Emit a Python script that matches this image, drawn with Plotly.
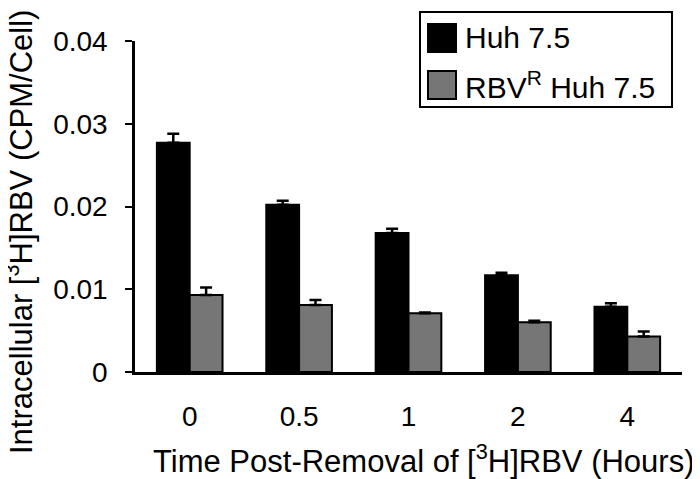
import plotly.graph_objects as go

# data
hours = ["0", "0.5", "1", "2", "4"]
huh_vals = [0.0277, 0.0202, 0.0168, 0.0117, 0.0079]
huh_err = [0.0011, 0.0005, 0.0005, 0.0003, 0.0004]
rbvr_vals = [0.0093, 0.0081, 0.0071, 0.0060, 0.0043]
rbvr_err = [0.0009, 0.0006, 0.0001, 0.0002, 0.0006]
series_names = ["Huh 7.5", "RBV<sup>R</sup> Huh 7.5"]
y_ticks = [0, 0.01, 0.02, 0.03, 0.04]
y_labels = ["0", "0.01", "0.02", "0.03", "0.04"]

# page body has an 8px margin, so the figure is drawn 8px in from the corner
OFF = 8
W, H = 692, 471
L, R, T, B = 127, 18, 33, 107
FONT = "Arial, Liberation Sans, sans-serif"


def px_x(sx):
    # screen pixel -> paper x
    return (sx - OFF - L) / (W - L - R)


def px_y(sy):
    # screen pixel -> paper y
    return (H - B - (sy - OFF)) / (H - T - B)


fig = go.Figure()
for vals, err, color, name in [
    (huh_vals, huh_err, "#000000", series_names[0]),
    (rbvr_vals, rbvr_err, "#767676", series_names[1]),
]:
    fig.add_trace(go.Bar(
        x=hours, y=vals, name=name,
        marker=dict(color=color, line=dict(color="black", width=2)),
        error_y=dict(type="data", array=err, arrayminus=[0] * len(err),
                     symmetric=False, color="black", thickness=2.5, width=6),
    ))

fig.update_layout(
    width=W, height=H,
    margin=dict(l=L, r=R, t=T, b=B),
    plot_bgcolor="white", paper_bgcolor="white",
    barmode="group", bargap=0.4, bargroupgap=0,
    showlegend=False,
    font=dict(family=FONT, size=28, color="black"),
)
fig.update_xaxes(
    showline=True, linecolor="black", linewidth=2.5,
    ticks="", showgrid=False, tickfont=dict(size=28), ticklabelstandoff=18,
)
fig.update_yaxes(
    range=[0, 0.04], showline=True, linecolor="black", linewidth=2.5,
    ticks="outside", ticklen=7, tickwidth=2, tickcolor="black",
    tickvals=y_ticks, ticktext=y_labels, showgrid=False, zeroline=False,
    tickfont=dict(size=28), ticklabelstandoff=12,
)

# axis titles
fig.add_annotation(
    text="Time Post-Removal of [<sup>3</sup>H]RBV (Hours)",
    xref="paper", yref="paper", x=px_x(423), y=px_y(459),
    xanchor="center", yanchor="middle",
    showarrow=False, font=dict(size=31),
)
fig.add_annotation(
    text="Intracellular [<sup>3</sup>H]RBV (CPM/Cell)",
    xref="paper", yref="paper", x=px_x(19), y=px_y(232), textangle=-90,
    xanchor="center", yanchor="middle",
    showarrow=False, font=dict(size=31),
)

# legend drawn by hand so the swatches can be large
fig.add_shape(type="rect", xref="paper", yref="paper",
              x0=px_x(420), x1=px_x(672), y0=px_y(107), y1=px_y(12),
              line=dict(color="black", width=2), fillcolor="white")
for i, (name, color) in enumerate(zip(series_names, ["#000000", "#767676"])):
    cy = 38 + i * 47
    fig.add_shape(type="rect", xref="paper", yref="paper",
                  x0=px_x(428), x1=px_x(456), y0=px_y(cy + 14), y1=px_y(cy - 14),
                  line=dict(color="black", width=2), fillcolor=color)
    fig.add_annotation(text=name, xref="paper", yref="paper",
                       x=px_x(463), y=px_y(cy), xanchor="left", yanchor="middle",
                       showarrow=False, font=dict(size=30))

fig.write_html("out.html")
